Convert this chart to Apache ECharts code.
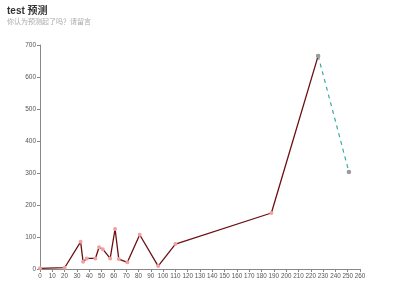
<!DOCTYPE html>
<html><head><meta charset="utf-8">
<script src="https://cdn.jsdelivr.net/npm/echarts@6/dist/echarts.min.js"></script>
<style>html,body{margin:0;padding:0;background:#fff}#c{width:400px;height:300px}</style>
</head><body><div id="c"></div>
<script>
var titleText = 'test 预测';
var subText = '你认为预测起了吗？请留言';
var actualX = [0, 20, 33, 35, 38, 45, 48, 51, 57, 61, 64, 71, 81, 96, 110, 188, 226];
var actualY = [2, 4, 85, 23, 33, 33, 68, 62, 33, 125, 31, 21, 107, 9, 78, 175, 666];
var predX = [226, 251];
var predY = [666, 303];

function pairs(xs, ys){ return xs.map(function(x,i){return [x, ys[i]];}); }

var ff = 'Liberation Sans, Noto Sans CJK SC, sans-serif';
var chart = echarts.init(document.getElementById('c'), null, {renderer:'canvas'});
chart.setOption({
  animation:false,
  textStyle:{fontFamily:ff},
  title:{text:titleText, subtext:subText, left:2, top:1, itemGap:3,
    textStyle:{fontSize:10, fontWeight:'bold', color:'#333', fontFamily:ff},
    subtextStyle:{fontSize:7, color:'#aaa', fontFamily:ff}},
  grid:{left:40, right:40, top:45, bottom:31, containLabel:false},
  xAxis:{type:'value', min:0, max:260, interval:10,
    axisLine:{lineStyle:{color:'#888'}}, axisTick:{length:3, lineStyle:{color:'#888'}},
    axisLabel:{fontSize:6.3, color:'#555', margin:4, fontFamily:ff, hideOverlap:false}, splitLine:{show:false}},
  yAxis:{type:'value', min:0, max:700, interval:100,
    axisLine:{show:true, lineStyle:{color:'#888'}}, axisTick:{show:true, length:3, lineStyle:{color:'#888'}},
    axisLabel:{fontSize:6.5, color:'#555', margin:4, fontFamily:ff}, splitLine:{show:false}},
  series:[
    {type:'line', data:pairs(actualX, actualY), symbol:'emptyCircle', symbolSize:2,
     lineStyle:{color:'#6b0f12', width:1.3}, itemStyle:{color:'#f0a0a0', borderWidth:0.7}, z:2},
    {type:'line', data:pairs(predX, predY), symbol:'emptyCircle', symbolSize:2.5,
     lineStyle:{color:'#3aa8a0', width:1.2, type:[4,4]}, itemStyle:{color:'#999', borderWidth:0.7}, z:3}
  ]
});
</script></body></html>
